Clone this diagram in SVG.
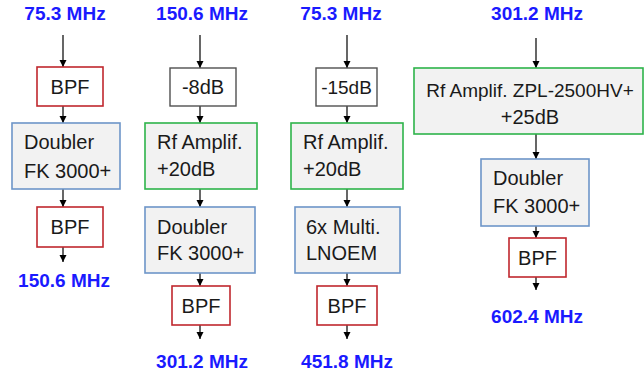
<svg xmlns="http://www.w3.org/2000/svg" width="644" height="380" viewBox="0 0 644 380">
<defs>
<marker id="ah" markerUnits="userSpaceOnUse" markerWidth="8" markerHeight="8" refX="7" refY="4" orient="auto">
<path d="M0,0.5 L7,4 L0,7.5 z" fill="#000"/>
</marker>
<style>
.freq{font-family:"Liberation Sans",Arial,sans-serif;font-weight:bold;font-size:19px;fill:#1a1aff;text-anchor:middle}
.t{font-family:"Liberation Sans",Arial,sans-serif;font-size:20px;fill:#1a1a1a}
.s{font-size:19px}
.c{text-anchor:middle}
.bpf{fill:#ffffff;stroke:#c0272d;stroke-width:1.6}
.att{fill:#ffffff;stroke:#505050;stroke-width:1.4}
.amp{fill:#f2f2f2;stroke:#2db34a;stroke-width:1.6}
.mul{fill:#f2f2f2;stroke:#6d95c8;stroke-width:1.6}
.ar{stroke:#000;stroke-width:1.2;fill:none;marker-end:url(#ah)}
</style>
</defs>
<rect width="644" height="380" fill="#ffffff"/>

<g id="labels">
<text class="freq" x="65" y="20">75.3 MHz</text>
<text class="freq" x="64" y="287">150.6 MHz</text>
<text class="freq" x="202" y="20">150.6 MHz</text>
<text class="freq" x="202" y="368">301.2 MHz</text>
<text class="freq" x="341" y="20">75.3 MHz</text>
<text class="freq" x="347" y="368">451.8 MHz</text>
<text class="freq" x="537" y="20">301.2 MHz</text>
<text class="freq" x="537" y="323">602.4 MHz</text>
</g>

<g id="connectors">
<line class="ar" x1="63" y1="35" x2="63" y2="67"/>
<line class="ar" x1="63" y1="106" x2="63" y2="123"/>
<line class="ar" x1="63" y1="189" x2="63" y2="207"/>
<line class="ar" x1="63" y1="247" x2="63" y2="262"/>

<line class="ar" x1="200" y1="35" x2="200" y2="68"/>
<line class="ar" x1="200" y1="106" x2="200" y2="123"/>
<line class="ar" x1="200" y1="189" x2="200" y2="207"/>
<line class="ar" x1="200" y1="273" x2="200" y2="286"/>
<line class="ar" x1="200" y1="325" x2="200" y2="339"/>

<line class="ar" x1="347" y1="35" x2="347" y2="68"/>
<line class="ar" x1="347" y1="106" x2="347" y2="123"/>
<line class="ar" x1="347" y1="189" x2="347" y2="207"/>
<line class="ar" x1="347" y1="273" x2="347" y2="286"/>
<line class="ar" x1="347" y1="325" x2="347" y2="339"/>

<line class="ar" x1="536" y1="38" x2="536" y2="68"/>
<line class="ar" x1="536" y1="134" x2="536" y2="159"/>
<line class="ar" x1="536" y1="226" x2="536" y2="238"/>
<line class="ar" x1="536" y1="277" x2="536" y2="290"/>
</g>

<g id="bpf1a"><rect class="bpf" x="37" y="67" width="66" height="39"/><text class="t c" x="70" y="94">BPF</text></g>
<g id="doubler1"><rect class="mul" x="12" y="123" width="108" height="66"/><text class="t" x="24" y="149">Doubler</text><text class="t" x="24" y="178">FK 3000+</text></g>
<g id="bpf1b"><rect class="bpf" x="37" y="207" width="66" height="40"/><text class="t c" x="70" y="234">BPF</text></g>

<g id="att8"><rect class="att" x="170" y="68" width="66" height="38"/><text class="t c" x="203" y="94">-8dB</text></g>
<g id="amp2"><rect class="amp" x="145" y="123" width="112" height="66"/><text class="t" x="157" y="149">Rf Amplif.</text><text class="t" x="157" y="176">+20dB</text></g>
<g id="doubler2"><rect class="mul" x="145" y="207" width="110" height="66"/><text class="t" x="157" y="234">Doubler</text><text class="t" x="157" y="260">FK 3000+</text></g>
<g id="bpf2"><rect class="bpf" x="172" y="286" width="58" height="39"/><text class="t c" x="201" y="313">BPF</text></g>

<g id="att15"><rect class="att" x="316" y="68" width="61" height="38"/><text class="t s c" x="346.5" y="94">-15dB</text></g>
<g id="amp3"><rect class="amp" x="291" y="123" width="112" height="66"/><text class="t" x="303" y="149">Rf Amplif.</text><text class="t" x="303" y="176">+20dB</text></g>
<g id="multi6"><rect class="mul" x="295" y="207" width="105" height="66"/><text class="t" x="306" y="234">6x Multi.</text><text class="t" x="306" y="260">LNOEM</text></g>
<g id="bpf3"><rect class="bpf" x="317" y="286" width="60" height="39"/><text class="t c" x="347" y="313">BPF</text></g>

<g id="amp4"><rect class="amp" x="414" y="68" width="229" height="66"/><text class="t s c" x="530" y="97">Rf Amplif. ZPL-2500HV+</text><text class="t c" x="530" y="124">+25dB</text></g>
<g id="doubler4"><rect class="mul" x="481" y="159" width="108" height="67"/><text class="t" x="493" y="185">Doubler</text><text class="t" x="493" y="213">FK 3000+</text></g>
<g id="bpf4"><rect class="bpf" x="509" y="238" width="57" height="39"/><text class="t c" x="537.5" y="265">BPF</text></g>
</svg>
